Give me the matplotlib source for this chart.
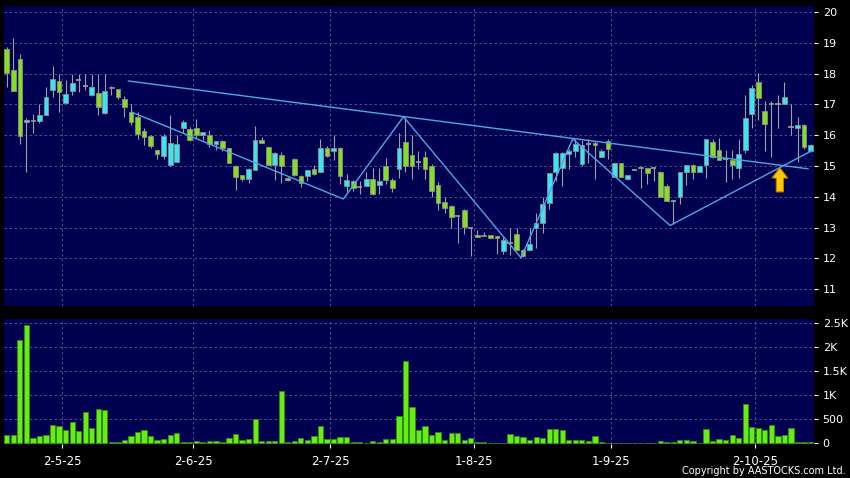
import matplotlib
matplotlib.use('Agg')
import matplotlib.pyplot as plt
import matplotlib.patches as mpatches
import numpy as np

# daily prices, one value per trading day (late Apr 2025 .. mid Oct 2025)
opens = [18.80, 18.13, 18.49, 16.42, 16.50, 16.45, 16.67, 17.48, 17.76, 17.06,
         17.44, 17.80, 17.61, 17.29, 17.38, 16.73, 17.58, 17.50, 17.19, 16.75,
         16.60, 16.14, 15.98, 15.52, 15.32, 15.03, 15.14, 16.22, 16.19, 16.22,
         16.00, 16.00, 15.70, 15.80, 15.57, 15.00, 14.70, 14.58, 14.88, 15.86,
         15.63, 15.03, 15.36, 14.62, 15.22, 14.69, 14.68, 14.90, 14.80, 15.57,
         15.48, 15.60, 14.35, 14.50, 14.33, 14.35, 14.58, 14.38, 15.00, 14.56,
         14.89, 15.79, 15.37, 15.13, 15.29, 15.00, 14.39, 13.83, 13.69, 13.38,
         13.57, 13.00, 12.77, 12.76, 12.75, 12.72, 12.24, 12.50, 12.78, 12.28,
         12.28, 12.98, 13.16, 13.79, 14.80, 14.92, 15.40, 15.48, 15.06, 15.71,
         15.76, 15.30, 15.80, 14.65, 15.11, 14.57, 14.86, 14.98, 14.93, 14.92,
         14.82, 14.36, 13.87, 14.00, 14.81, 15.02, 14.81, 15.02, 15.78, 15.51,
         15.24, 15.19, 14.95, 15.52, 16.68, 17.72, 16.80, 17.00, 17.00, 17.01,
         16.28, 16.22, 16.33, 15.49]
highs = [18.85, 19.17, 18.63, 16.57, 16.68, 17.00, 17.57, 18.24, 18.00, 17.80,
         18.00, 18.00, 18.00, 18.00, 18.00, 18.00, 17.60, 17.50, 17.28, 17.00,
         16.75, 16.24, 16.00, 15.55, 16.05, 16.66, 16.00, 16.50, 16.28, 16.53,
         16.12, 16.18, 15.82, 15.86, 15.60, 15.02, 14.72, 14.95, 16.30, 15.95,
         15.65, 15.46, 15.45, 14.65, 15.25, 14.70, 14.87, 15.03, 15.87, 15.65,
         16.00, 15.62, 14.75, 14.55, 14.50, 14.82, 14.92, 14.92, 15.25, 14.62,
         16.08, 16.60, 16.00, 15.50, 15.49, 15.05, 14.48, 13.99, 13.72, 13.40,
         13.60, 13.00, 12.92, 12.85, 12.77, 12.74, 12.68, 12.98, 12.99, 12.30,
         12.99, 13.46, 13.99, 14.00, 15.45, 15.45, 15.55, 15.87, 15.85, 15.87,
         15.80, 15.55, 15.88, 15.11, 15.11, 14.72, 14.90, 15.00, 14.95, 14.95,
         14.85, 14.40, 13.90, 14.81, 15.02, 15.05, 15.00, 15.87, 15.89, 15.92,
         15.51, 15.51, 15.89, 17.31, 17.63, 18.03, 17.10, 17.10, 17.30, 17.74,
         17.00, 16.58, 16.35, 15.70]
lows = [17.55, 17.44, 15.72, 14.80, 16.07, 16.40, 16.65, 17.24, 16.75, 17.05,
        17.30, 17.40, 17.46, 17.28, 16.67, 16.70, 17.30, 17.19, 16.60, 16.34,
        15.88, 15.68, 15.60, 15.22, 15.22, 15.00, 15.14, 16.08, 15.82, 15.88,
        15.86, 15.62, 15.52, 15.50, 15.10, 14.22, 14.50, 14.44, 14.88, 15.74,
        15.02, 14.55, 14.45, 14.50, 14.69, 14.31, 14.50, 14.70, 14.80, 15.30,
        15.20, 14.40, 14.12, 14.20, 14.10, 14.35, 14.05, 14.10, 14.40, 14.15,
        14.60, 14.82, 14.58, 14.91, 14.58, 13.98, 13.57, 13.46, 12.98, 12.51,
        12.78, 12.08, 12.70, 12.72, 12.66, 12.13, 12.13, 12.10, 12.27, 12.03,
        12.28, 12.34, 12.84, 13.60, 14.50, 14.36, 14.90, 15.30, 15.00, 15.11,
        14.57, 15.30, 15.22, 14.63, 14.65, 14.55, 14.86, 14.30, 14.41, 14.50,
        14.00, 13.85, 13.11, 13.78, 14.37, 14.59, 14.80, 14.62, 15.25, 15.20,
        14.48, 14.59, 14.60, 15.41, 16.22, 16.49, 15.50, 15.30, 16.22, 17.00,
        16.00, 15.14, 15.55, 15.45]
closes = [18.02, 17.45, 15.98, 16.50, 16.47, 16.67, 17.25, 17.83, 17.41, 17.35,
          17.68, 17.80, 17.61, 17.55, 16.93, 17.44, 17.52, 17.25, 16.90, 16.44,
          16.05, 15.95, 15.65, 15.38, 15.98, 15.74, 15.71, 16.42, 15.84, 16.00,
          16.10, 15.70, 15.80, 15.58, 15.10, 14.65, 14.58, 14.89, 15.86, 15.76,
          15.03, 15.43, 15.00, 14.56, 14.71, 14.46, 14.87, 14.75, 15.57, 15.32,
          15.60, 14.66, 14.55, 14.29, 14.33, 14.58, 14.08, 14.50, 14.56, 14.27,
          15.60, 15.00, 15.00, 15.13, 14.91, 14.20, 13.80, 13.63, 13.33, 13.38,
          13.02, 13.00, 12.70, 12.72, 12.66, 12.66, 12.59, 12.50, 12.27, 12.08,
          12.48, 13.15, 13.78, 14.78, 15.42, 15.42, 15.48, 15.72, 15.68, 15.71,
          15.69, 15.49, 15.56, 15.11, 14.65, 14.70, 14.86, 14.93, 14.76, 14.92,
          14.00, 13.85, 13.87, 14.81, 15.02, 14.81, 14.99, 15.87, 15.29, 15.21,
          15.24, 15.02, 15.40, 16.57, 17.52, 17.20, 16.35, 17.00, 17.00, 17.25,
          16.28, 16.33, 15.63, 15.68]
volumes = [174, 174, 2150, 2465, 118, 153, 180, 375, 354, 285,
           451, 257, 660, 326, 715, 694, 21, 21, 76, 153,
           229, 271, 146, 69, 90, 180, 215, 28, 28, 49,
           28, 49, 42, 21, 111, 187, 76, 83, 507, 49,
           49, 49, 1083, 21, 49, 104, 76, 160, 361, 83,
           90, 132, 132, 28, 35, 5, 42, 28, 83, 90,
           562, 1715, 764, 285, 365, 174, 243, 70, 209, 209,
           70, 104, 35, 35, 14, 14, 5, 188, 146, 139,
           77, 139, 118, 292, 292, 271, 77, 77, 77, 42,
           160, 28, 14, 14, 5, 5, 5, 14, 5, 5,
           49, 28, 21, 77, 77, 49, 5, 292, 49, 83,
           70, 174, 111, 814, 348, 320, 278, 376, 153, 174,
           313, 35, 21, 21]

# first trading day of each month (index into the lists above)
month_start = [8, 28, 49, 71, 92, 114]
month_labels = ['2-5-25', '2-6-25', '2-7-25', '1-8-25', '1-9-25', '2-10-25']

# hand-drawn trend lines (day index, price)
neck_x = [18.6, 122.6]
neck_y = [17.76, 14.91]
zig_x = [19.1, 51.5, 60.7, 78.7, 86.6, 101.5, 123.4]
zig_y = [16.75, 13.93, 16.60, 12.02, 15.88, 13.07, 15.52]

# breakout arrow
arrow_x = 118.3
arrow_y = [14.16, 14.94]

vol_ticks = [0, 500, 1000, 1500, 2000, 2500]
vol_labels = ['0', '500', '1K', '1.5K', '2K', '2.5K']

NAVY = '#000050'
GRID = '#5a5a98'
UP = '#38e6f2'
DOWN = '#82e020'
EDGE = '#8c8c8c'
WICK = '#a0a0a0'
VOL = '#66ee14'
LINE = '#4aa8e8'

o = np.array(opens)
h = np.array(highs)
l = np.array(lows)
c = np.array(closes)
x = np.arange(len(o))
up = c > o
dn = c < o
flat = c == o

W, H = 850, 478
fig = plt.figure(figsize=(8.5, 4.78), dpi=100, facecolor='black')
ax1 = fig.add_axes([4 / W, 1 - 306 / H, 810.3 / W, 300 / H])
ax2 = fig.add_axes([4 / W, 1 - 444 / H, 810.3 / W, 125 / H])

for ax in (ax1, ax2):
    ax.set_facecolor(NAVY)
    for s in ax.spines.values():
        s.set_visible(False)
    ax.set_xlim(-0.43, len(o) - 0.43)
    ax.yaxis.tick_right()
    ax.tick_params(axis='y', colors='white', length=3, width=0.8, pad=3, labelsize=8)
    ax.set_xticks(np.array(month_start) + 0.5)
    ax.grid(True, color=GRID, linestyle=(0, (3, 3)), linewidth=0.6)
    ax.set_axisbelow(True)

# price panel
ax1.set_ylim(10.455, 20.195)
ax1.set_yticks(range(11, 21))
ax1.tick_params(axis='x', length=0, labelbottom=False)
ax1.vlines(x, l, h, color=WICK, linewidth=0.8, zorder=2)
ax1.bar(x[up], (c - o)[up], bottom=o[up], width=0.72, color=UP,
        edgecolor=EDGE, linewidth=0.6, zorder=3)
ax1.bar(x[dn], (o - c)[dn], bottom=c[dn], width=0.72, color=DOWN,
        edgecolor=EDGE, linewidth=0.6, zorder=3)
ax1.hlines(c[flat], x[flat] - 0.4, x[flat] + 0.4, color=WICK, linewidth=1.2, zorder=3)

ax1.plot(neck_x, neck_y, color=LINE, linewidth=1.0, zorder=4)
ax1.plot(zig_x, zig_y, color=LINE, linewidth=1.0, zorder=4)

arr = mpatches.FancyArrow(arrow_x, arrow_y[0], 0, arrow_y[1] - arrow_y[0],
                          width=1.1, head_width=2.4, head_length=0.33,
                          length_includes_head=True, facecolor='#ffcc00',
                          edgecolor='#c87800', linewidth=0.8, zorder=5)
ax1.add_patch(arr)

# volume panel
ax2.set_ylim(-15, 2590)
ax2.set_yticks(vol_ticks)
ax2.set_yticklabels(vol_labels)
ax2.bar(x, volumes, width=0.8, color=VOL, edgecolor='#2f9010', linewidth=0.5, zorder=3)
ax2.set_xticklabels(month_labels)
ax2.tick_params(axis='x', colors='white', length=3, width=0.8, pad=5, labelsize=8.5)

fig.text(846 / W, 1 - 471.5 / H, 'Copyright by AASTOCKS.com Ltd.', color='white',
         ha='right', va='center', fontsize=7)

fig.savefig('out.png', dpi=100, facecolor='black')
